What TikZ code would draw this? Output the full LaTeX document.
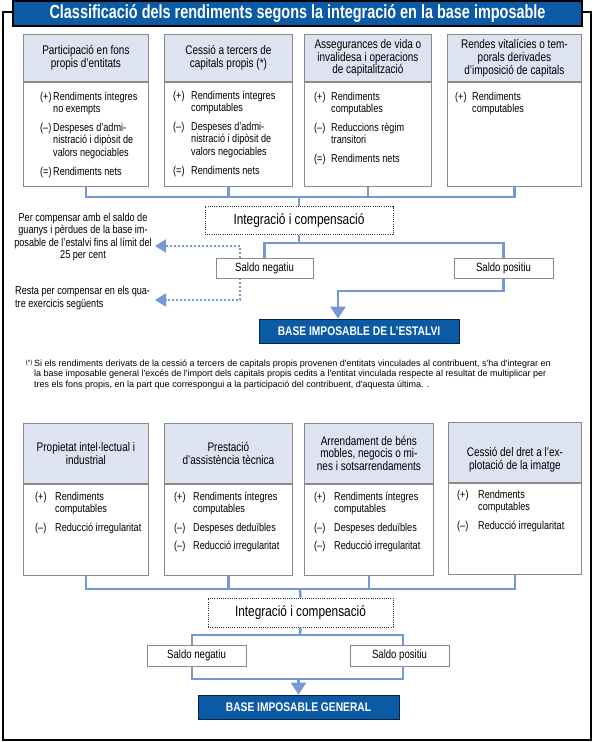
\documentclass[tikz,border=0pt]{standalone}
\usepackage{fontspec}
\setmainfont{Liberation Sans}[FakeStretch=0.8]
\newfontfamily\headfont{Liberation Sans}[FakeStretch=0.82]
\newfontfamily\titlefont{Liberation Sans}[FakeStretch=0.76]
\newfontfamily\notefont{Liberation Sans}
\usetikzlibrary{arrows.meta,positioning}
\definecolor{titleblue}{HTML}{0B5AA6}
\definecolor{hdrfill}{HTML}{DEE3F2}
\definecolor{boxgray}{HTML}{8A8A8A}
\definecolor{linkblue}{HTML}{7499D4}
\tikzset{
  hdr/.style={draw=boxgray, fill=hdrfill, line width=0.8pt, anchor=north west, align=center,
    inner sep=0pt, font=\fontsize{12.5}{12.8}\selectfont},
  body/.style={draw=boxgray, fill=white, line width=0.8pt, anchor=north, inner sep=0pt},
  items/.style={anchor=base west, inner sep=0pt, font=\fontsize{11.4}{12.8}\selectfont},
  saldo/.style={draw=boxgray, fill=white, line width=0.8pt, inner sep=0pt, minimum height=20pt,
    font=\fontsize{12}{13}\selectfont},
  intbox/.style={draw=black!80, dash pattern=on 1pt off 1.2pt, fill=white, line width=0.9pt,
    inner sep=0pt, minimum height=28pt, font=\fontsize{14.8}{16}\selectfont},
  basebox/.style={draw=black!60!titleblue, fill=titleblue, line width=0.8pt, text=white, inner sep=0pt,
    minimum height=24pt, minimum width=200pt, font=\headfont\bfseries\fontsize{12.5}{14}\selectfont},
  conn/.style={draw=linkblue, line width=2.5pt},
  dotconn/.style={draw=linkblue, line width=2pt, dash pattern=on 2pt off 2pt,
    -{Triangle[width=13pt,length=11pt]}},
  note/.style={inner sep=0pt, font=\fontsize{11.4}{12.3}\selectfont}
}
\begin{document}
\begin{tikzpicture}[x=1pt,y=-1pt]
\useasboundingbox (0,0) rectangle (596,742);
% frame and title
\draw[line width=1.3pt] (3,12) rectangle (591,740);
\node[draw=black, line width=1.2pt, fill=titleblue, text=white, minimum width=569pt, minimum height=25pt,
  inner sep=0pt, font=\titlefont\bfseries\fontsize{19}{20}\selectfont] (title) at (297.5,13.5)
  {Classificació dels rendiments segons la integració en la base imposable};

% top row
\node[hdr, minimum width=125pt, minimum height=47pt] (h1) at (23,34) {Participació en fons\\propis d’entitats};
\node[body, minimum width=125pt, minimum height=104pt] (b1) at (h1.south) {};
\node[items] (t1) at (40,100) {\begin{tabular}[t]{@{}p{13pt}@{}l@{}}
  (+)&Rendiments íntegres\\&no exempts\\[5.5pt]
  (–)&Despeses d’admi-\\&nistració i dipòsit de\\&valors negociables\\[5.5pt]
  (=)&Rendiments nets\end{tabular}};

\node[hdr, minimum width=128pt, minimum height=47pt] (h2) at (164,34) {Cessió a tercers de\\capitals propis (*)};
\node[body, minimum width=128pt, minimum height=104pt] (b2) at (h2.south) {};
\node[items] (t2) at (173,99) {\begin{tabular}[t]{@{}p{18pt}@{}l@{}}
  (+)&Rendiments íntegres\\&computables\\[5.5pt]
  (–)&Despeses d’admi-\\&nistració i dipòsit de\\&valors negociables\\[5.5pt]
  (=)&Rendiments nets\end{tabular}};

\node[hdr, minimum width=127pt, minimum height=47pt] (h3) at (304,34) {Assegurances de vida o\\invalidesa i operacions\\de capitalització};
\node[body, minimum width=127pt, minimum height=104pt] (b3) at (h3.south) {};
\node[items] (t3) at (314,100) {\begin{tabular}[t]{@{}p{17pt}@{}l@{}}
  (+)&Rendiments\\&computables\\[5.5pt]
  (–)&Reduccions règim\\&transitori\\[5.5pt]
  (=)&Rendiments nets\end{tabular}};

\node[hdr, minimum width=134pt, minimum height=47pt] (h4) at (447,34) {Rendes vitalícies o tem-\\porals derivades\\d’imposició de capitals};
\node[body, minimum width=134pt, minimum height=104pt] (b4) at (h4.south) {};
\node[items] (t4) at (455,100) {\begin{tabular}[t]{@{}p{17pt}@{}l@{}}
  (+)&Rendiments\\&computables\end{tabular}};

% integration of the top row
\node[intbox, minimum width=188pt] (ic) at (299,220.5) {Integració i compensació};
\coordinate (j1) at (299,197);
\coordinate (j2) at (299,243);
\coordinate (j3) at (338,291);
\draw[conn] (b1.south) |- (j1) -| (b4.south);
\draw[conn] (b2.south) -- (b2.south |- j1);
\draw[conn] (b3.south) -- (b3.south |- j1);
\draw[conn] (j1) -- (ic.north);
\node[saldo, minimum width=97pt] (sn) at (264.5,268) {Saldo negatiu};
\node[saldo, minimum width=99pt] (sp) at (503.5,268) {Saldo positiu};
\node[basebox] (be) at (359,331) {BASE IMPOSABLE DE L’ESTALVI};
\draw[conn] (ic.south) -- (j2);
\draw[conn] (sn.north) |- (j2) -| (sp.north);
\draw[conn, -{Triangle[width=15pt,length=12pt]}] (sp.south) |- (j3) -- (j3 |- be.north);

% negative balance
\node[note, anchor=north, align=center] (pc) at (83,213) {Per compensar amb el saldo de\\guanys i pèrdues de la base im-\\posable de l’estalvi fins al límit del\\25 per cent};
\node[note, anchor=north west, align=left] (rc) at (15,286.5) {Resta per compensar en els qua-\\tre exercicis següents};
\coordinate (up) at (240,246);
\coordinate (lo) at (240,300);
\coordinate (tip1) at (155,246);
\coordinate (tip2) at (155,300);
\draw[dotconn] (sn.north -| up) -- (up) -- (tip1);
\draw[dotconn] (sn.south -| lo) -- (lo) -- (tip2);

% footnote
\node[anchor=north west, inner sep=0pt, align=left, font=\notefont\fontsize{9}{10.5}\selectfont] (fn) at (34,359.5)
  {Si els rendiments derivats de la cessió a tercers de capitals propis provenen d'entitats vinculades al contribuent, s'ha d'integrar en\\
   la base imposable general l'excés de l'import dels capitals propis cedits a l'entitat vinculada respecte al resultat de multiplicar per\\
   tres els fons propis, en la part que correspongui a la participació del contribuent, d'aquesta última. .};
\node[anchor=north east, inner sep=0pt, font=\notefont\fontsize{6}{7}\selectfont] (ast) at ([xshift=-1.5pt]fn.north west) {(*)};

% bottom row
\node[hdr, minimum width=125pt, minimum height=60pt] (h5) at (23,423) {Propietat intel·lectual i\\industrial};
\node[body, minimum width=125pt, minimum height=91pt] (b5) at (h5.south) {};
\node[items] (t5) at (35,500) {\begin{tabular}[t]{@{}p{20pt}@{}l@{}}
  (+)&Rendiments\\&computables\\[5.5pt]
  (–)&Reducció irregularitat\end{tabular}};

\node[hdr, minimum width=128pt, minimum height=60pt] (h6) at (164,423) {Prestació\\d’assistència tècnica};
\node[body, minimum width=128pt, minimum height=91pt] (b6) at (h6.south) {};
\node[items] (t6) at (174,500) {\begin{tabular}[t]{@{}p{19pt}@{}l@{}}
  (+)&Rendiments íntegres\\&computables\\[5.5pt]
  (–)&Despeses deduïbles\\[5.5pt]
  (–)&Reducció irregularitat\end{tabular}};

\node[hdr, minimum width=129pt, minimum height=60pt] (h7) at (304,423) {Arrendament de béns\\mobles, negocis o mi-\\nes i sotsarrendaments};
\node[body, minimum width=129pt, minimum height=91pt] (b7) at (h7.south) {};
\node[items] (t7) at (314,500) {\begin{tabular}[t]{@{}p{20pt}@{}l@{}}
  (+)&Rendiments íntegres\\&computables\\[5.5pt]
  (–)&Despeses deduïbles\\[5.5pt]
  (–)&Reducció irregularitat\end{tabular}};

\node[hdr, minimum width=133pt, minimum height=60pt] (h8) at (448,422) {\rule{0pt}{24pt}Cessió del dret a l’ex-\\plotació de la imatge};
\node[body, minimum width=133pt, minimum height=91pt] (b8) at (h8.south) {};
\node[items] (t8) at (457,498) {\begin{tabular}[t]{@{}p{21pt}@{}l@{}}
  (+)&Rendments\\&computables\\[5.5pt]
  (–)&Reducció irregularitat\end{tabular}};

% integration of the bottom row
\node[intbox, minimum width=185pt, minimum height=29pt] (ic2) at (300.5,612.5) {Integració i compensació};
\node[saldo, minimum width=99pt, minimum height=21pt] (sn2) at (196.5,655.5) {Saldo negatiu};
\node[saldo, minimum width=99pt, minimum height=21pt] (sp2) at (399.5,655.5) {Saldo positiu};
\node[basebox, minimum width=201pt] (bg) at (298.5,707) {BASE IMPOSABLE GENERAL};
\coordinate (j4) at (300,589);
\coordinate (j5) at (300,635);
\coordinate (j6) at (298.5,679);
\draw[conn] (b5.south) |- (j4) -| (b8.south);
\draw[conn] (b6.south) -- (b6.south |- j4);
\draw[conn] (b7.south) -- (b7.south |- j4);
\draw[conn] (j4) -- (ic2.north);
\draw[conn] (ic2.south) -- (j5);
\draw[conn] ([xshift=-4.5pt]sn2.north) |- (j5) -| ([xshift=3.5pt]sp2.north);
\draw[conn] ([xshift=-4.5pt]sn2.south) |- (j6) -| ([xshift=3.5pt]sp2.south);
\draw[conn, -{Triangle[width=15pt,length=12pt]}] (j6) -- (bg.north);
\end{tikzpicture}
\end{document}
